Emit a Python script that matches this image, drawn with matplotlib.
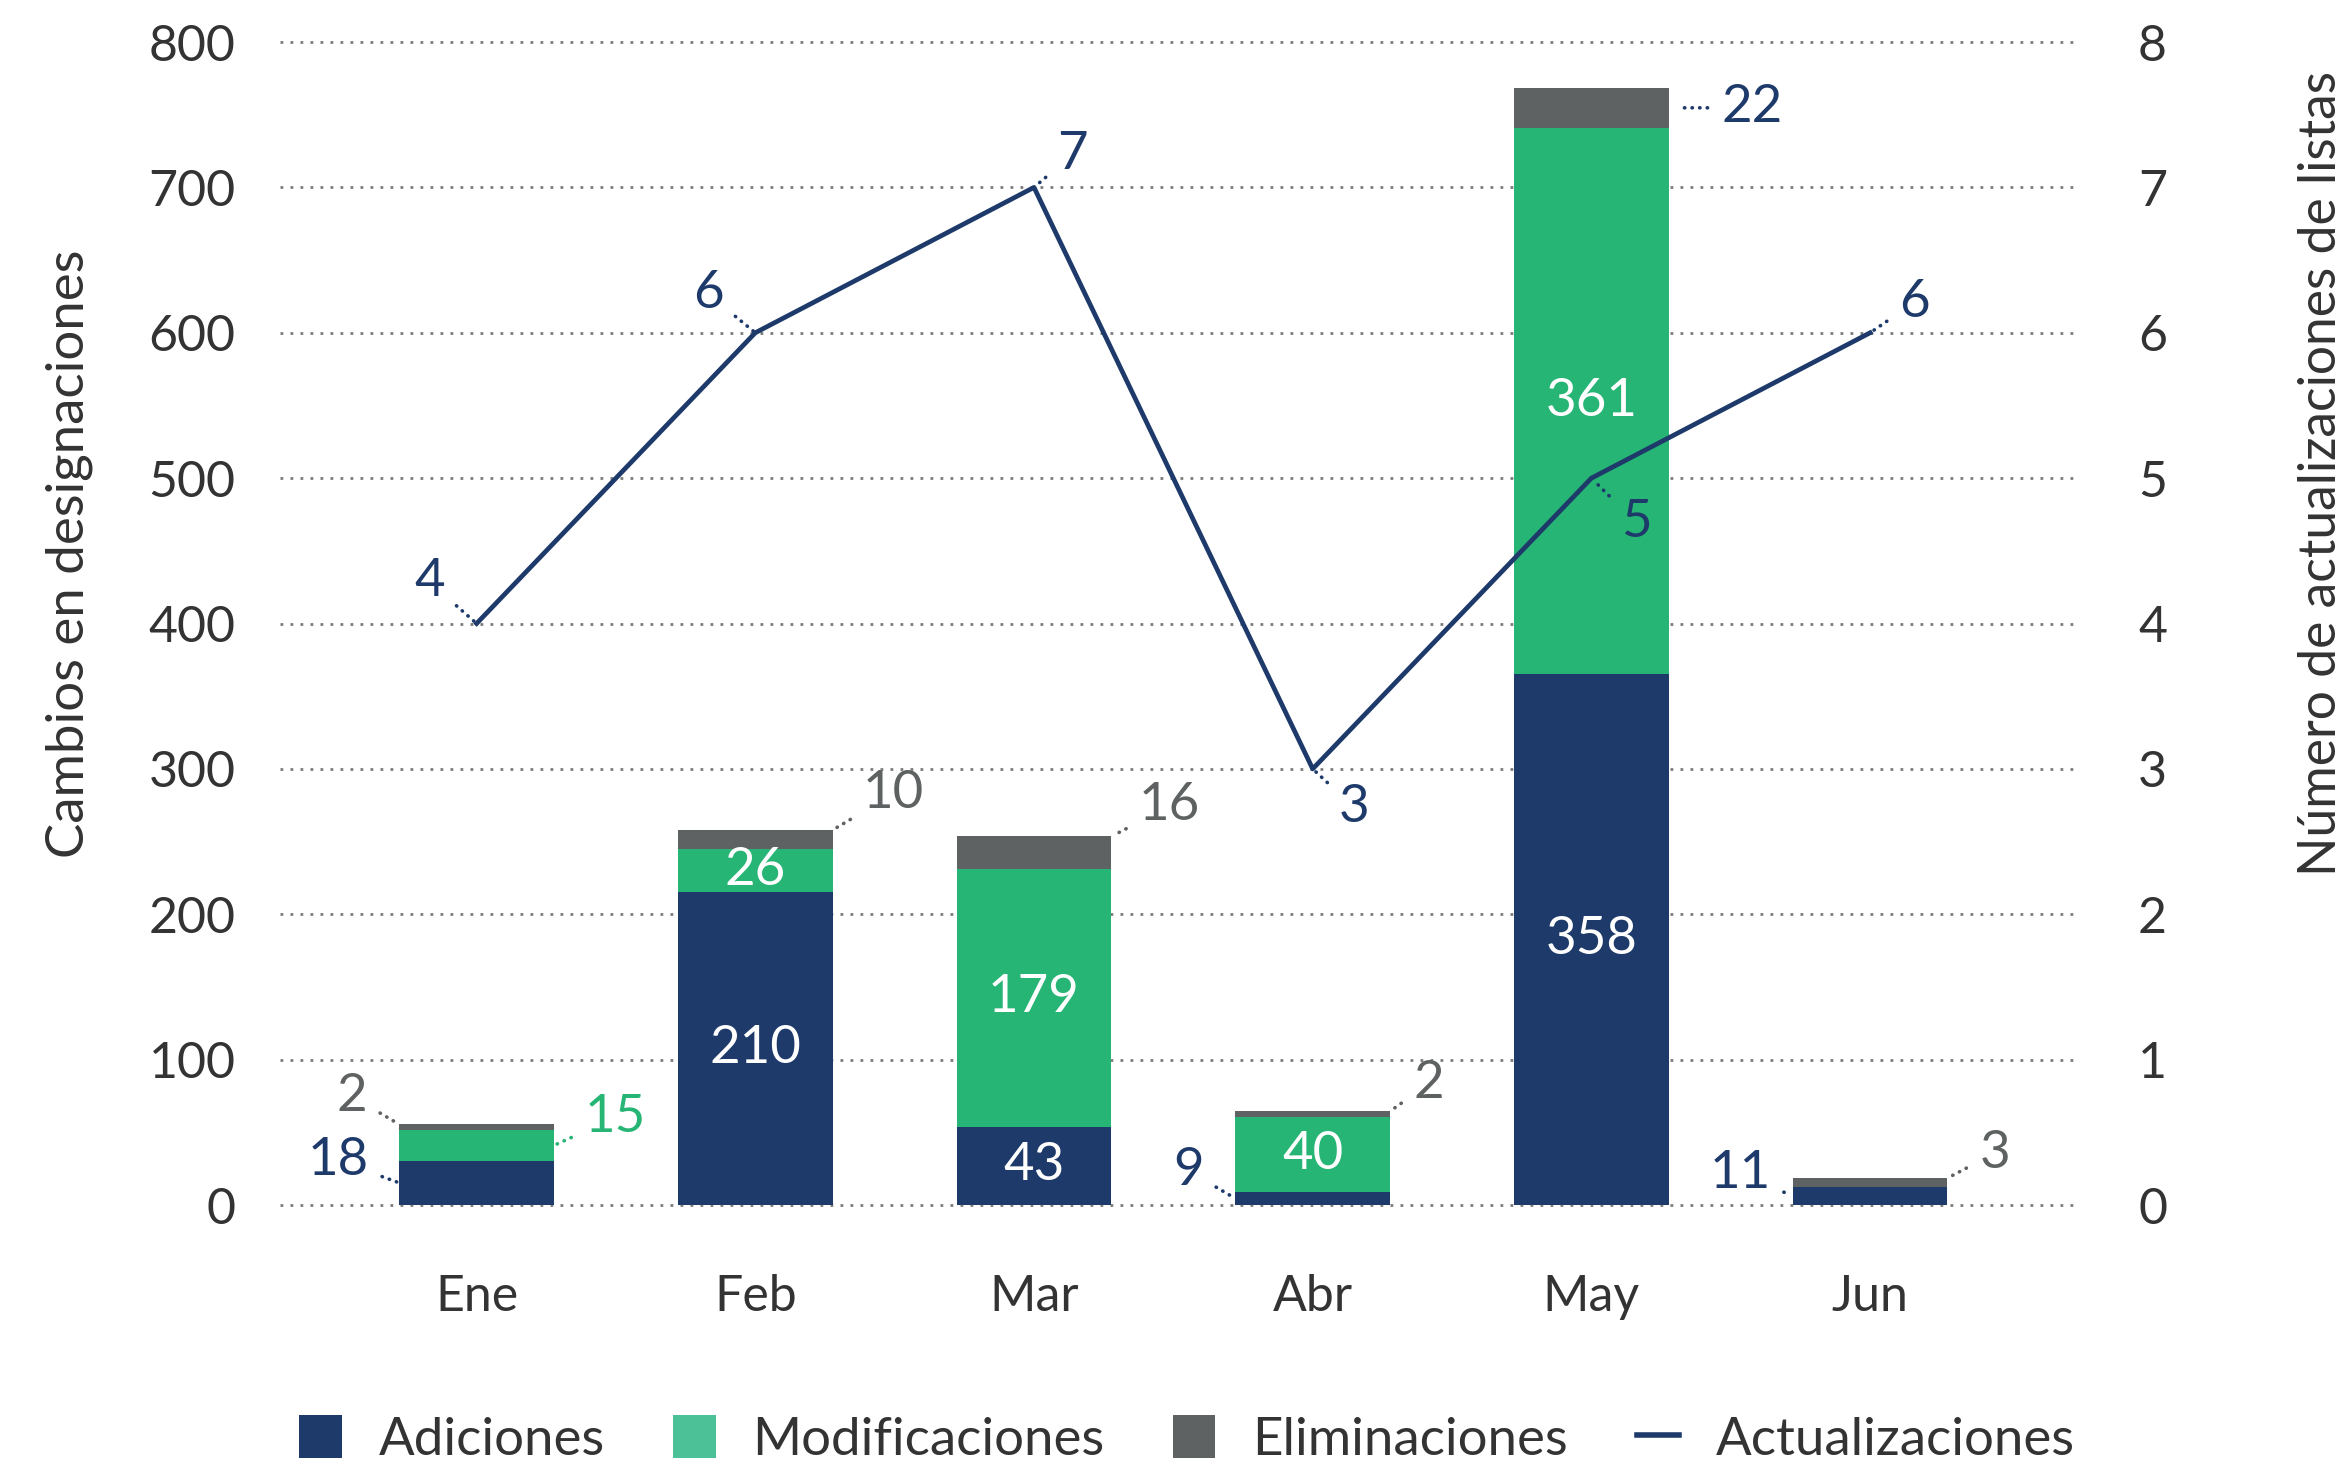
import matplotlib

matplotlib.use("Agg")
import matplotlib.pyplot as plt
import numpy as np
from matplotlib.lines import Line2D
from matplotlib.patches import Patch

# --- data ------------------------------------------------------------------
MONTHS = ["Ene", "Feb", "Mar", "Abr", "May", "Jun"]

# drawn segment heights (left axis)
ADICIONES = [30.5, 215, 54, 9, 365, 12.5]
MODIFICACIONES = [21, 30, 177, 51.5, 376, 0]
ELIMINACIONES = [4, 13, 22.5, 4, 27.5, 6]

# printed values on the segments
ADICIONES_LABELS = [18, 210, 43, 9, 358, 11]
MODIFICACIONES_LABELS = [15, 26, 179, 40, 361, None]
ELIMINACIONES_LABELS = [2, 10, 16, 2, 22, 3]

# right axis line
ACTUALIZACIONES = [4, 6, 7, 3, 5, 6]

# --- palette ----------------------------------------------------------------
NAVY = "#1d3a6a"
GREEN = "#26b574"
GREEN_LEGEND = "#4cc096"
GRAY = "#5f6262"
TEXT = "#333333"
GRID = "#7a7a7a"

FONT = ["Lato", "DejaVu Sans"]
TICK_SIZE = 18
LABEL_SIZE = 19
VALUE_SIZE = 19
BAR_WIDTH = 0.555
LEADER = (0, (0.1, 2.0))

# callout placement: (series, month index) -> anchor, offset in points, colour
CALLOUTS = {
    ("adic", 0): ("left", (-22, 8), NAVY),
    ("modif", 0): ("right", (22, 10), GREEN),
    ("elim", 0): ("topleft", (-17, 10), GRAY),
    ("elim", 1): ("topright", (22, 13), GRAY),
    ("elim", 2): ("topright", (21, 11), GRAY),
    ("adic", 3): ("left", (-17, 10), NAVY),
    ("elim", 3): ("topright", (14, 10), GRAY),
    ("elim", 4): ("right", (30, 0), NAVY),
    ("adic", 5): ("left", (-19, 8), NAVY),
    ("elim", 5): ("topright", (17, 9), GRAY),
}
LINE_OFFSETS = [(-17, 15), (-17, 14), (14, 12), (15, -14), (16, -16), (16, 11)]

plt.rcParams["font.family"] = FONT


def _callout(ax, xy, text, offset, color, gap=1):
    ax.annotate(
        text,
        xy=xy,
        xytext=offset,
        textcoords="offset points",
        ha="center",
        va="center",
        color=color,
        fontsize=VALUE_SIZE,
        arrowprops=dict(
            arrowstyle="-",
            linestyle=LEADER,
            color=color,
            lw=1.3,
            capstyle="round",
            shrinkA=3,
            shrinkB=gap,
        ),
        zorder=5,
    )


fig = plt.figure(figsize=(11.73, 7.32), dpi=200)
ax = fig.add_axes([0.1194, 0.1769, 0.7659, 0.7944])
x = np.arange(len(MONTHS))

adic = np.array(ADICIONES, dtype=float)
modif = np.array(MODIFICACIONES, dtype=float)
elim = np.array(ELIMINACIONES, dtype=float)

ax.bar(x, adic, BAR_WIDTH, color=NAVY, zorder=2)
ax.bar(x, modif, BAR_WIDTH, bottom=adic, color=GREEN, zorder=2)
ax.bar(x, elim, BAR_WIDTH, bottom=adic + modif, color=GRAY, zorder=2)

ax.set_xlim(-0.705, 5.742)
ax.set_ylim(0, 800)
ax.set_yticks(np.arange(0, 801, 100))
ax.set_xticks(x)
ax.set_xticklabels(MONTHS)
ax.tick_params(axis="both", length=0, labelsize=TICK_SIZE, labelcolor=TEXT)
ax.tick_params(axis="y", pad=16)
ax.tick_params(axis="x", pad=25)
for s in ax.spines.values():
    s.set_visible(False)
ax.set_axisbelow(True)
ax.yaxis.grid(True, color=GRID, linestyle=(0, (1, 2.6)), linewidth=1.0)
for gl in ax.get_ygridlines():
    gl.set_clip_on(False)
ax.set_ylabel("Cambios en designaciones", fontsize=LABEL_SIZE, color=TEXT)
ax.yaxis.set_label_coords(-0.104, 0.56)

# values inside / beside the segments
series = {
    "adic": (np.zeros(len(x)), adic, ADICIONES_LABELS),
    "modif": (adic, modif, MODIFICACIONES_LABELS),
    "elim": (adic + modif, elim, ELIMINACIONES_LABELS),
}
half = BAR_WIDTH / 2
for key, (bottom, height, labels) in series.items():
    for i, lab in enumerate(labels):
        if lab is None:
            continue
        mid = bottom[i] + height[i] / 2
        top = bottom[i] + height[i]
        if (key, i) in CALLOUTS:
            anchor, off, col = CALLOUTS[(key, i)]
            xy = {
                "left": (x[i] - half, mid),
                "right": (x[i] + half, mid),
                "topleft": (x[i] - half, top),
                "topright": (x[i] + half, top),
            }[anchor]
            _callout(ax, xy, str(lab), off, col, gap=5 if anchor == "right" and off[1] == 0 else 1)
        else:
            ax.text(x[i], mid, str(lab), ha="center", va="center", color="white",
                    fontsize=VALUE_SIZE, zorder=4)

# line on the secondary axis
ax2 = ax.twinx()
ax2.plot(x, ACTUALIZACIONES, color=NAVY, linewidth=1.7, zorder=3)
ax2.set_ylim(0, 8)
ax2.set_yticks(np.arange(0, 9, 1))
ax2.tick_params(axis="y", length=0, labelsize=TICK_SIZE, labelcolor=TEXT, pad=22)
for s in ax2.spines.values():
    s.set_visible(False)
ax2.set_ylabel("Número de actualizaciones de listas", fontsize=18.6, color=TEXT)
ax2.yaxis.set_label_coords(1.123, 0.629)
for i, v in enumerate(ACTUALIZACIONES):
    _callout(ax2, (x[i], v), str(v), LINE_OFFSETS[i], NAVY)

handles = [
    Patch(facecolor=NAVY),
    Patch(facecolor=GREEN_LEGEND),
    Patch(facecolor=GRAY),
    Line2D([0], [0], color=NAVY, linewidth=2),
]
fig.legend(
    handles,
    ["Adiciones", "Modificaciones", "Eliminaciones", "Actualizaciones"],
    loc="center",
    bbox_to_anchor=(0.506, 0.017),
    ncol=4,
    frameon=False,
    fontsize=LABEL_SIZE,
    handlelength=0.8,
    handleheight=0.9,
    handletextpad=0.7,
    columnspacing=1.3,
    labelcolor=TEXT,
)

fig.savefig("out.png", dpi=200)
